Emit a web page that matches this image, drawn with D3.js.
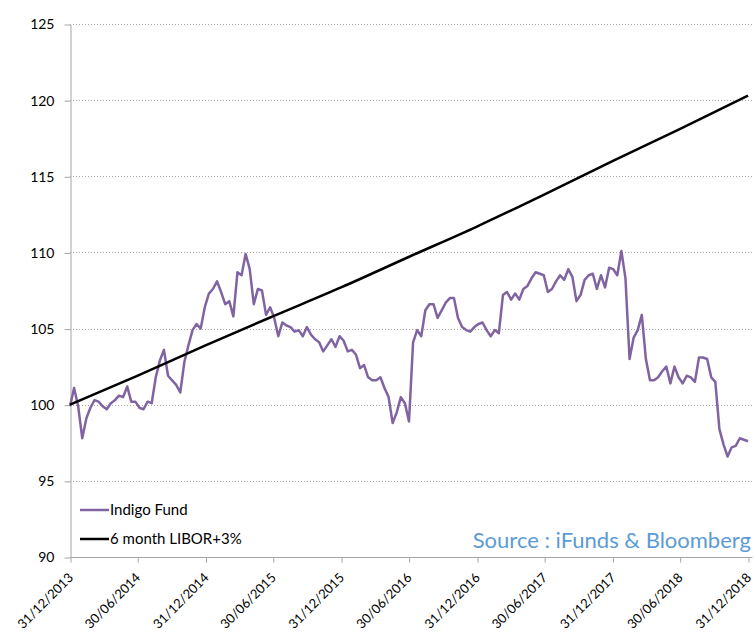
<!DOCTYPE html>
<html>
<head>
<meta charset="utf-8">
<script src="https://cdn.jsdelivr.net/npm/d3@7"></script>
<style>
    html, body { margin: 0; padding: 0; background: #fff; }
    svg text { font-family: Lato, "Open Sans", sans-serif; fill: #000; }
</style>
</head>
<body>
<div id="chart"></div>
<script>
(function () {
    "use strict";

    // Indigo Fund, read every 11 days from 31/12/2013
    var fundStart = "2013-12-31",
        fundStepDays = 11;
    var fundValues = [
        99.9, 101.1, 99.9, 97.8, 99.1, 99.8, 100.3, 100.2, 99.9, 99.7,
        100.1, 100.3, 100.6, 100.5, 101.2, 100.2, 100.2, 99.8, 99.7, 100.2,
        100.1, 101.8, 102.9, 103.6, 101.9, 101.6, 101.3, 100.8, 102.8, 103.9,
        104.9, 105.3, 105.0, 106.4, 107.3, 107.6, 108.1, 107.4, 106.6, 106.8,
        105.8, 108.7, 108.5, 109.9, 108.9, 106.6, 107.6, 107.5, 105.9, 106.4,
        105.7, 104.5, 105.4, 105.2, 105.1, 104.8, 104.9, 104.5, 105.1, 104.6,
        104.3, 104.1, 103.5, 103.9, 104.3, 103.8, 104.5, 104.2, 103.5, 103.6,
        103.3, 102.4, 102.6, 101.8, 101.6, 101.6, 101.8, 101.1, 100.5, 98.8,
        99.5, 100.5, 100.1, 98.9, 104.1, 104.9, 104.5, 106.2, 106.6, 106.6,
        105.7, 106.2, 106.7, 107.0, 107.0, 105.7, 105.1, 104.9, 104.8, 105.1,
        105.3, 105.4, 104.9, 104.5, 104.9, 104.7, 107.2, 107.4, 106.9, 107.3,
        106.9, 107.6, 107.8, 108.3, 108.7, 108.6, 108.5, 107.4, 107.6, 108.1,
        108.5, 108.2, 108.9, 108.4, 106.8, 107.2, 108.2, 108.5, 108.6, 107.6,
        108.5, 107.7, 109.0, 108.9, 108.5, 110.1, 108.3, 103.0, 104.4, 104.9,
        105.9, 103.0, 101.6, 101.6, 101.8, 102.2, 102.5, 101.4, 102.5, 101.8,
        101.4, 101.9, 101.8, 101.5, 103.1, 103.1, 103.0, 101.8, 101.5, 98.4,
        97.4, 96.6, 97.2, 97.3, 97.8, 97.7, 97.6
    ];

    // 6 month LIBOR+3%
    var liborDates = [
        "2013-12-31", "2014-06-30", "2014-12-31", "2015-06-30", "2015-12-31", "2016-06-30",
        "2016-12-31", "2017-06-30", "2017-12-31", "2018-06-30", "2018-12-31"
    ];
    var liborValues = [100, 101.9, 103.9, 105.8, 107.7, 109.7, 111.7, 113.8, 116.0, 118.1, 120.3];

    var tickDates = [
        "2013-12-31", "2014-06-30", "2014-12-31", "2015-06-30", "2015-12-31", "2016-06-30",
        "2016-12-31", "2017-06-30", "2017-12-31", "2018-06-30", "2018-12-31"
    ];
    var yTicks = [90, 95, 100, 105, 110, 115, 120, 125];

    var legendLabels = ["Indigo Fund", "6 month LIBOR+3%"];
    var sourceLabel = "Source : iFunds & Bloomberg";

    var width = 754,
        height = 635;

    var parse = d3.utcParse("%Y-%m-%d"),
        fmt = d3.utcFormat("%d/%m/%Y");

    var start = parse(fundStart);
    var fund = fundValues.map(function (v, i) {
        return { date: d3.utcDay.offset(start, i * fundStepDays), value: v };
    });
    var libor = liborValues.map(function (v, i) {
        return { date: parse(liborDates[i]), value: v };
    });

    var x = d3.scaleUtc()
        .domain([parse(tickDates[0]), parse(tickDates[tickDates.length - 1])])
        .range([70, 748]);

    var y = d3.scaleLinear()
        .domain([90, 125])
        .range([557, 24]);

    var svg = d3.select("#chart").append("svg")
        .attr("width", width)
        .attr("height", height);

    // gridlines
    svg.append("g")
        .selectAll("line")
        .data(yTicks.slice(1))
        .enter().append("line")
        .attr("x1", 70)
        .attr("x2", 752)
        .attr("y1", function (d) { return Math.round(y(d)) + 0.5; })
        .attr("y2", function (d) { return Math.round(y(d)) + 0.5; })
        .attr("stroke", "#a6a6a6")
        .attr("stroke-width", 1)
        .attr("stroke-dasharray", "1,2");

    // y axis
    var yAxis = svg.append("g")
        .attr("transform", "translate(70.5,0.5)")
        .call(d3.axisLeft(y).tickValues(yTicks).tickSize(6).tickPadding(10).tickSizeOuter(0));
    yAxis.select(".domain").attr("stroke", "#a6a6a6");
    yAxis.selectAll(".tick line").attr("stroke", "#a6a6a6");
    yAxis.selectAll(".tick text")
        .attr("font-size", 14)
        .attr("font-family", "Lato, 'Open Sans', sans-serif")
        .attr("fill", "#000");

    // x axis
    var xAxis = svg.append("g")
        .attr("transform", "translate(0.5,557.5)")
        .call(d3.axisBottom(x).tickValues(tickDates.map(parse)).tickFormat(fmt).tickSize(5).tickSizeOuter(0));
    xAxis.select(".domain").attr("stroke", "#a6a6a6").attr("d", "M70,0H752");
    xAxis.selectAll(".tick line").attr("stroke", "#a6a6a6");
    xAxis.selectAll(".tick text")
        .attr("font-size", 13)
        .attr("font-family", "Lato, 'Open Sans', sans-serif")
        .attr("fill", "#000")
        .attr("text-anchor", "end")
        .attr("y", 0)
        .attr("dy", 0)
        .attr("transform", "translate(3,21) rotate(-45)");

    var line = d3.line()
        .x(function (d) { return x(d.date); })
        .y(function (d) { return y(d.value); });

    svg.append("path")
        .datum(fund)
        .attr("d", line)
        .attr("fill", "none")
        .attr("stroke", "#8064a2")
        .attr("stroke-width", 2.5)
        .attr("stroke-linejoin", "round");

    svg.append("path")
        .datum(libor)
        .attr("d", line.curve(d3.curveMonotoneX))
        .attr("fill", "none")
        .attr("stroke", "#000")
        .attr("stroke-width", 2.5);

    // legend
    var legendColors = ["#8064a2", "#000"];
    var legend = svg.append("g")
        .selectAll("g")
        .data(legendLabels)
        .enter().append("g")
        .attr("transform", function (d, i) { return "translate(80," + (510 + i * 29) + ")"; });
    legend.append("line")
        .attr("x1", 0)
        .attr("x2", 29)
        .attr("stroke", function (d, i) { return legendColors[i]; })
        .attr("stroke-width", 2.5);
    legend.append("text")
        .attr("x", 30)
        .attr("dy", "0.35em")
        .attr("font-size", 15)
        .text(function (d) { return d; });

    svg.append("text")
        .attr("x", 751)
        .attr("y", 548)
        .attr("text-anchor", "end")
        .attr("font-size", 22)
        .style("fill", "#5b9bd5")
        .text(sourceLabel);
})();
</script>
</body>
</html>
